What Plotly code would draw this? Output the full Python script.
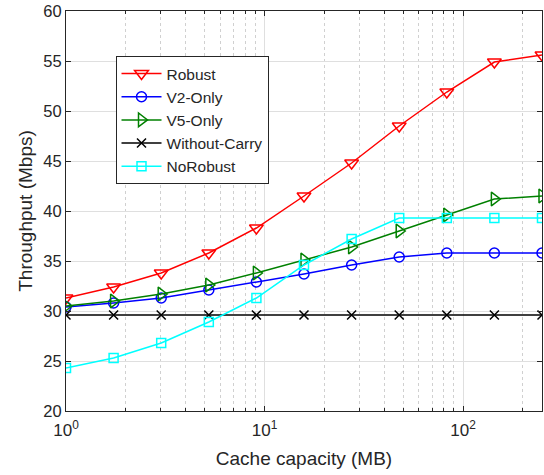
import math
import plotly.graph_objects as go

# x positions: 11 cache sizes, log-spaced from 1 to 250 MB
cache_mb = [1.0, 1.737, 3.017, 5.241, 9.103, 15.81, 27.47, 47.71, 82.87, 143.9, 250.0]

robust = [31.3, 32.4, 33.8, 35.8, 38.3, 41.5, 44.8, 48.5, 51.9, 54.9, 55.6]
v2_only = [30.4, 30.8, 31.3, 32.1, 32.9, 33.7, 34.6, 35.4, 35.8, 35.8, 35.8]
v5_only = [30.5, 31.0, 31.7, 32.6, 33.8, 35.1, 36.4, 38.0, 39.6, 41.2, 41.5]
without_carry = [29.6] * 11
no_robust = [24.3, 25.3, 26.8, 28.9, 31.3, 34.6, 37.2, 39.3, 39.3, 39.3, 39.3]

series = [
    ("Robust", robust, "#ff0000", "triangle-down-open", 12),
    ("V2-Only", v2_only, "#0000ff", "circle-open", 10),
    ("V5-Only", v5_only, "#008000", "triangle-right-open", 12),
    ("Without-Carry", without_carry, "#000000", "x-thin-open", 9),
    ("NoRobust", no_robust, "#00ffff", "square-open", 9),
]

x_tickvals = [1, 10, 100]
x_ticktext = ["10<sup>0</sup>", "10<sup>1</sup>", "10<sup>2</sup>"]
y_tickvals = [20, 25, 30, 35, 40, 45, 50, 55, 60]

fig = go.Figure()
for name, vals, color, sym, size in series:
    fig.add_trace(go.Scatter(
        x=cache_mb, y=vals, name=name, mode="lines+markers",
        line=dict(color=color, width=1.5),
        marker=dict(symbol=sym, size=size, color=color,
                    line=dict(color=color, width=1.5)),
    ))

font_color = "#262626"
fig.update_layout(
    width=544, height=475,
    margin=dict(l=66, r=2, t=11, b=64, autoexpand=False),
    paper_bgcolor="white", plot_bgcolor="white",
    font=dict(family="Liberation Sans, Arial, sans-serif", size=16, color=font_color),
    legend=dict(
        x=0.104, y=0.8875, xanchor="left", yanchor="top",
        bgcolor="white", bordercolor="#262626", borderwidth=1,
        font=dict(size=15.5, color=font_color),
        tracegroupgap=0, itemwidth=40,
    ),
    showlegend=True,
)
fig.update_xaxes(
    type="log", range=[0.0, float(math.log10(250))], autorange=False,
    automargin=False,
    tickvals=x_tickvals, ticktext=x_ticktext,
    tickfont=dict(size=17), ticklabelstandoff=4,
    ticks="inside", ticklen=5, tickcolor="#262626",
    showgrid=True, gridcolor="#dfdfdf", gridwidth=1,
    showline=True, linecolor="#262626", linewidth=1, mirror="ticks",
    minor=dict(ticks="inside", ticklen=3, tickcolor="#262626",
               showgrid=True, gridcolor="#d0d0d0", griddash="dot", dtick="D1"),
    title=dict(text="Cache capacity (MB)", standoff=12, font=dict(size=19)),
    zeroline=False,
)
fig.update_yaxes(
    range=[20, 60], autorange=False, automargin=False,
    tickvals=y_tickvals, tickfont=dict(size=16.5),
    ticks="inside", ticklen=5, tickcolor="#262626",
    showgrid=True, gridcolor="#dfdfdf", gridwidth=1,
    showline=True, linecolor="#262626", linewidth=1, mirror="ticks",
    title=dict(text="Throughput (Mbps)", standoff=5, font=dict(size=19)),
    zeroline=False,
)

fig.write_html(
    "out.html",
    config={"displayModeBar": False},
    post_script="document.body.style.margin='0';document.body.style.overflow='hidden';",
)
